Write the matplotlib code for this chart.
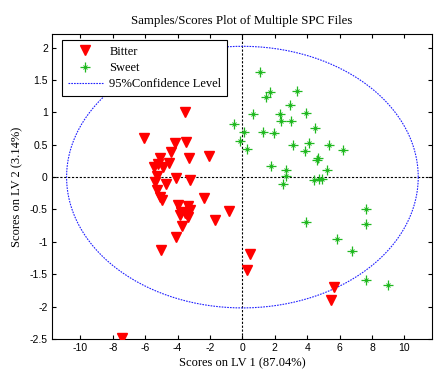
import numpy as np
import matplotlib
matplotlib.use("Agg")
import matplotlib.pyplot as plt
from matplotlib.lines import Line2D

# Data
bitter_x = [-3.52, -6.09, -4.18, -3.48, -4.41, -3.31, -2.08, -5.06, -5.23, -4.53,
            -5.46, -4.90, -5.29, -4.12, -3.25, -5.37, -4.69, -5.27, -5.07, -4.95,
            -2.39, -3.98, -3.36, -3.25, -3.77, -3.56, -3.87, -3.36, -0.83, -1.71,
            -3.70, -4.07, -5.00, 0.45, 0.28, 5.65, 5.49, -7.41]
bitter_y = [1.00, 0.61, 0.52, 0.54, 0.39, 0.30, 0.33, 0.29, 0.20, 0.22,
            0.15, 0.16, 0.02, -0.02, -0.05, -0.07, -0.11, -0.20, -0.31, -0.36,
            -0.32, -0.43, -0.45, -0.51, -0.54, -0.56, -0.59, -0.61, -0.52, -0.67,
            -0.76, -0.93, -1.12, -1.19, -1.44, -1.70, -1.90, -2.48]

sweet_x = [1.07, 1.73, 1.48, 3.37, 2.92, 0.65, 2.32, 3.91, 2.36, 2.98,
           -0.54, 0.08, 1.30, 1.95, 4.51, -0.17, 0.28, 3.12, 4.11, 3.86,
           5.33, 6.21, 4.69, 4.60, 1.79, 2.67, 2.67, 5.25, 2.51, 4.40,
           4.71, 4.91, 7.65, 7.65, 3.95, 5.86, 6.75, 7.61, 8.99]
sweet_y = [1.63, 1.32, 1.23, 1.33, 1.11, 0.98, 0.98, 0.99, 0.86, 0.87,
           0.82, 0.69, 0.69, 0.68, 0.76, 0.56, 0.44, 0.50, 0.53, 0.40,
           0.49, 0.42, 0.29, 0.26, 0.17, 0.11, 0.02, 0.11, -0.10, -0.05,
           -0.03, -0.03, -0.50, -0.73, -0.70, -0.96, -1.14, -1.59, -1.67]

ellipse_a = 10.85
ellipse_b = 2.02

xticks = [-10, -8, -6, -4, -2, 0, 2, 4, 6, 8, 10]
yticks = [-2.5, -2, -1.5, -1, -0.5, 0, 0.5, 1, 1.5, 2]

serif = "Liberation Serif"
sans = "Liberation Sans"

fig = plt.figure(figsize=(4.35, 3.72), dpi=100)
ax = fig.add_axes([52/435, 1-339/372, 380/435, 305/372])

t = np.linspace(0, 2*np.pi, 400)
ax.axhline(0, color="black", linestyle=(0, (2, 1.5)), lw=0.8, zorder=1)
ax.axvline(0, color="black", linestyle=(0, (2, 1.5)), lw=0.8, zorder=1)

ax.plot(bitter_x, bitter_y, linestyle="none", marker="v", markersize=7.5,
        color="#ff0000", markeredgecolor="#ff0000", zorder=3)
green = "#20b820"
ax.plot(sweet_x, sweet_y, linestyle="none", marker="+", markersize=7,
        markeredgewidth=0.9, color=green, zorder=3)
ax.plot(sweet_x, sweet_y, linestyle="none", marker="x", markersize=3.5,
        markeredgewidth=0.7, color=green, zorder=3)
ax.plot(ellipse_a*np.cos(t), ellipse_b*np.sin(t), color="#2020ff",
        linestyle=(0, (1.5, 1)), lw=0.8, zorder=2)

ax.set_xlim(-11.75, 11.7)
ax.set_ylim(-2.5, 2.21)
ax.set_xticks(xticks)
ax.set_yticks(yticks)
ax.set_xticklabels([str(v) for v in xticks], fontfamily=sans, fontsize=7.5)
ax.set_yticklabels([("%g" % v) for v in yticks], fontfamily=sans, fontsize=7.5)
ax.tick_params(direction="in", top=True, right=True, length=3, width=0.8, pad=3)
for s in ax.spines.values():
    s.set_linewidth(0.8)

ax.set_title("Samples/Scores Plot of Multiple SPC Files", fontfamily=serif,
             fontsize=9.3, pad=7)
ax.set_xlabel("Scores on LV 1 (87.04%)", fontfamily=serif, fontsize=9, labelpad=3)
ax.set_ylabel("Scores on LV 2 (3.14%)", fontfamily=serif, fontsize=9, labelpad=5)

handles = [
    Line2D([], [], linestyle="none", marker="v", markersize=7.5, color="#ff0000"),
    (Line2D([], [], linestyle="none", marker="+", markersize=7, markeredgewidth=0.9, color=green),
     Line2D([], [], linestyle="none", marker="x", markersize=3.5, markeredgewidth=0.7, color=green)),
    Line2D([], [], color="#2020ff", linestyle=(0, (1.5, 1)), lw=0.8),
]
leg = ax.legend(handles, ["Bitter", "Sweet", "95%Confidence Level"],
                loc="upper left", bbox_to_anchor=(0.026, 0.98),
                prop={"family": serif, "size": 9}, frameon=True,
                fancybox=False, edgecolor="black", framealpha=1,
                handlelength=2.8, borderpad=0.45, labelspacing=0.35,
                handletextpad=0.55, borderaxespad=0)
leg.get_frame().set_linewidth(0.8)

fig.savefig("out.png", dpi=100)
